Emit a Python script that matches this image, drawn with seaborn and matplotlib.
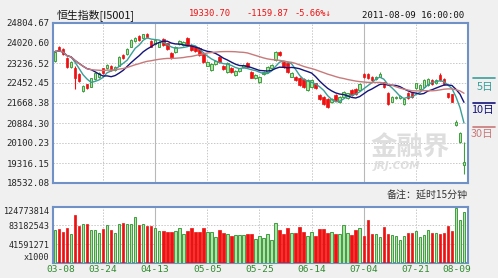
import numpy as np
import pandas as pd
import matplotlib
matplotlib.use("Agg")
import matplotlib.pyplot as plt
from matplotlib.lines import Line2D
import seaborn as sns

# ---------------- data ----------------
opens = [23315, 23877, 23790, 23419, 23092, 23053, 22790, 22139, 22400, 22308,
         22610, 22674, 23027, 23027, 23118, 22962, 23132, 23550, 23576, 23877,
         24099, 24295, 24229, 24360, 24099, 23968, 23877, 24177, 24007, 23615,
         23655, 23968, 23942, 24203, 23942, 23877, 23811, 23615, 23132, 22962,
         23184, 23485, 23132, 22896, 23053, 22766, 22922, 23092, 23223, 22896,
         22635, 22504, 22792, 22896, 23027, 23354, 23655, 23288, 23223, 22700,
         22700, 22635, 22610, 22178, 22308, 22439, 21982, 21916, 21825, 21694,
         21982, 21694, 21916, 21877, 22178, 22217, 22178, 22792, 22792, 22700,
         22609, 22700, 22478, 22073, 21720, 21851, 21851, 21616, 22073, 22047,
         22243, 22217, 22308, 22374, 22570, 22439, 22766, 22596, 22047, 22008,
         20806, 20152, 19237]
highs = [23740, 23920, 23820, 23485, 23330, 23100, 22830, 22370, 22430, 22660,
         22860, 22880, 23060, 23200, 23150, 23120, 23520, 23590, 23820, 24170,
         24260, 24330, 24390, 24400, 24140, 24170, 24080, 24210, 24040, 23650,
         23900, 24130, 24080, 24240, 23980, 23910, 23850, 23650, 23320, 23220,
         23350, 23520, 23170, 23260, 23090, 22960, 23060, 23200, 23260, 22930,
         22800, 22740, 22930, 23130, 23190, 23690, 23690, 23320, 23260, 22870,
         22740, 22670, 22640, 22600, 22610, 22470, 22020, 21950, 21860, 21860,
         22020, 21950, 22150, 22080, 22210, 22250, 22440, 22830, 22830, 22740,
         22740, 22900, 22510, 22110, 21950, 21950, 21990, 21860, 22110, 22080,
         22470, 22410, 22600, 22630, 22610, 22600, 22840, 22630, 22080, 22040,
         20990, 20545, 20152]
lows = [23290, 23720, 23540, 23027, 23050, 22205, 22480, 22090, 22200, 22280,
        22580, 22650, 22800, 23000, 22930, 22940, 23100, 23390, 23550, 23850,
        24070, 24110, 24200, 24230, 23850, 23940, 23850, 23910, 23760, 23390,
        23630, 23940, 23910, 23910, 23720, 23680, 23520, 23230, 23100, 22930,
        23150, 23230, 22970, 22860, 22860, 22730, 22890, 23060, 23060, 22630,
        22600, 22470, 22760, 22860, 22990, 23320, 23520, 23060, 22860, 22670,
        22540, 22340, 22270, 22140, 22270, 22210, 21790, 21580, 21490, 21660,
        21750, 21660, 21880, 21840, 21950, 21970, 22140, 22660, 22600, 22530,
        22570, 22670, 22270, 21580, 21690, 21820, 21820, 21580, 21840, 21880,
        22210, 22190, 22280, 22340, 22370, 22410, 22540, 22370, 21880, 21690,
        20780, 20087, 18870]
closes = [23680, 23746, 23575, 23092, 23288, 22635, 22530, 22335, 22243, 22635,
          22831, 22831, 22831, 23158, 22962, 23092, 23485, 23419, 23785, 24138,
          24229, 24138, 24360, 24256, 23877, 24138, 24046, 23942, 23785, 23419,
          23877, 24099, 24046, 23942, 23746, 23707, 23550, 23262, 23288, 23184,
          23315, 23262, 23001, 23223, 22896, 22922, 23027, 23158, 23092, 22661,
          22766, 22700, 22896, 23092, 23158, 23655, 23550, 23092, 22896, 22831,
          22570, 22374, 22308, 22570, 22570, 22243, 21825, 21616, 21524, 21825,
          21786, 21916, 22112, 22047, 21982, 22008, 22400, 22700, 22635, 22570,
          22700, 22805, 22308, 21616, 21916, 21916, 21955, 21825, 21877, 21916,
          22439, 22374, 22570, 22596, 22400, 22570, 22570, 22400, 21916, 21720,
          20936, 20479, 19369]
volumes = [72800000, 75000000, 69100000, 76500000, 63900000, 106200000, 82400000, 87600000, 86200000, 72800000,
           72800000, 66800000, 75000000, 84700000, 72800000, 66800000, 86200000, 89900000, 87600000, 87600000,
           102500000, 84700000, 87600000, 81000000, 81000000, 77200000, 71300000, 71300000, 69100000, 67600000,
           71300000, 77200000, 63900000, 71300000, 77200000, 69100000, 69100000, 77200000, 67600000, 69100000,
           57900000, 72800000, 65400000, 63900000, 60200000, 61600000, 61600000, 61600000, 63900000, 63900000,
           52000000, 59400000, 55700000, 63900000, 50500000, 89100000, 72800000, 63900000, 76500000, 66800000,
           66800000, 78700000, 69100000, 59400000, 67600000, 60200000, 75000000, 75000000, 65400000, 69100000,
           63900000, 63900000, 83900000, 65400000, 61600000, 72800000, 78000000, 60200000, 96600000, 63100000,
           63900000, 56400000, 78700000, 63900000, 61600000, 60200000, 50500000, 60200000, 65400000, 65400000,
           70600000, 56400000, 62400000, 72800000, 66800000, 65400000, 63100000, 65400000, 81700000, 71300000,
           122500000, 96600000, 113700000]

price_ticks = [24804.67, 24020.60, 23236.52, 22452.45, 21668.38, 20884.30, 20100.23, 19316.15, 18532.08]
vol_ticks = [124773814, 83182543, 41591271]
date_labels = ["03-08", "03-24", "04-13", "05-05", "05-25", "06-14", "07-04", "07-21", "08-09"]
date_pos = [1.5, 12, 25, 38, 51, 64, 77, 90, 100.2]
grid_bars = [12, 25, 38, 51, 64, 77, 90]
ma_windows = [5, 10, 30]
ma_names = ["5日", "10日", "30日"]

# ---------------- style ----------------
sns.set_style("white")
plt.rcParams["font.family"] = ["DejaVu Sans Mono", "Noto Sans CJK SC"]

RED = "#ee1111"
G_EDGE = "#3f9f3f"
G_FILL = "#b4e0ac"
BORDER = "#7090c8"
MA_COLORS = ["#3a9e98", "#14147a", "#c87a7a"]
BG = "#f0f0f0"

W, H = 498, 278
fig = plt.figure(figsize=(W / 100, H / 100), dpi=100, facecolor=BG)
ax = fig.add_axes([53 / W, 1 - 183 / H, 415 / W, 160 / H])
axv = fig.add_axes([53 / W, 1 - 262.5 / H, 415 / W, 55.5 / H])

o = np.array(opens, float)
h = np.array(highs, float)
l = np.array(lows, float)
c = np.array(closes, float)
v = np.array(volumes, float)
idx = np.arange(len(c))
up = c >= o

df = pd.DataFrame({"bar": idx, "close": c})
for w in ma_windows:
    df[f"ma{w}"] = df["close"].rolling(w, min_periods=1).mean()

for a in (ax, axv):
    a.set_facecolor("white")
    for s in a.spines.values():
        s.set_color(BORDER)
        s.set_linewidth(1.5)
    a.set_xlim(-0.5, 103.0)
    a.tick_params(length=0)
    for gb in grid_bars:
        if gb in (25, 77):
            a.axvline(gb, color="#b8b8b8", lw=0.8, zorder=0)
        else:
            a.axvline(gb, color="#c8c8c8", lw=0.7, ls=(0, (1.5, 1.5)), zorder=0)

# price panel
ax.set_ylim(price_ticks[-1], price_ticks[0])
for t in price_ticks[1:-1]:
    ax.axhline(t, color="#c8c8c8", lw=0.7, ls=(0, (1.5, 1.5)), zorder=0)
ax.set_yticks(price_ticks)
ax.set_yticklabels([f"{t:.2f}" for t in price_ticks], fontsize=6.5, family="DejaVu Sans Mono")
ax.tick_params(axis="y", pad=2.5)
ax.set_xticks([])

body_bot = np.minimum(o, c)
body_h = np.maximum(np.abs(c - o), 30)
ax.vlines(idx, l, h, colors=np.where(up, G_EDGE, RED), lw=0.8, zorder=3)
ax.bar(idx[up], body_h[up], bottom=body_bot[up], width=0.62,
       facecolor=G_FILL, edgecolor=G_EDGE, lw=0.7, zorder=4)
ax.bar(idx[~up], body_h[~up], bottom=body_bot[~up], width=0.62,
       facecolor=RED, edgecolor=RED, lw=0.5, zorder=4)

for w, col in zip(ma_windows, MA_COLORS):
    sns.lineplot(data=df, x="bar", y=f"ma{w}", ax=ax, color=col, lw=1.0, zorder=5, legend=False)
ax.set_xlabel("")
ax.set_ylabel("")

# watermark
fig.text(410 / W, 1 - 148 / H, "金融界", fontsize=19, color="#dedede", ha="center", va="center",
         family=["Noto Sans CJK SC"], fontweight="bold", zorder=1)
fig.text(397 / W, 1 - 166 / H, "JRJ.COM", fontsize=7.5, color="#dedede", ha="center", va="center",
         family=["DejaVu Sans"], fontweight="bold", style="italic", zorder=1)

# volume panel
axv.set_ylim(0, vol_ticks[0])
for t in vol_ticks[1:]:
    axv.axhline(t, color="#c8c8c8", lw=0.7, ls=(0, (1.5, 1.5)), zorder=0)
axv.bar(idx[up], v[up], width=0.62, facecolor=G_FILL, edgecolor=G_EDGE, lw=0.7, zorder=3)
axv.bar(idx[~up], v[~up], width=0.62, facecolor=RED, edgecolor=RED, lw=0.5, zorder=3)
axv.set_yticks(vol_ticks + [0])
axv.set_yticklabels([str(t) for t in vol_ticks] + ["x1000"], fontsize=6.1, family="DejaVu Sans Mono")
axv.tick_params(axis="y", pad=2.5)
axv.set_xticks(date_pos)
axv.set_xticklabels(date_labels, fontsize=6.8, color="#2e8b2e", family="DejaVu Sans Mono")
axv.tick_params(axis="x", pad=2)
axv.get_yticklabels()[0].set_va("top")
axv.get_yticklabels()[-1].set_va("bottom")

# header
fig.text(57 / W, 1 - 15 / H, "恒生指数[I5001]", fontsize=7.8, color="#111111", va="center",
         family=["Noto Sans CJK SC", "DejaVu Sans"])
fig.text(189 / W, 1 - 14 / H, "19330.70", fontsize=6.3, color=RED, va="center")
fig.text(246 / W, 1 - 14 / H, "-1159.87", fontsize=6.3, color=RED, va="center")
fig.text(294 / W, 1 - 14 / H, "-5.66%↓", fontsize=6.3, color=RED, va="center")
fig.text(362 / W, 1 - 16 / H, "2011-08-09 16:00:00", fontsize=6.5, color="#111111", va="center")
fig.text(468 / W, 1 - 196 / H, "备注：延时15分钟", fontsize=7.2, color="#333333", va="center", ha="right",
         family=["Noto Sans CJK SC", "DejaVu Sans"])

# MA legend on the right
leg_y = [(78, 87), (103, 110), (127, 134)]
for (ly, ty), name, col in zip(leg_y, ma_names, MA_COLORS):
    fig.add_artist(Line2D([473 / W, 495 / W], [1 - ly / H, 1 - ly / H], color=col, lw=1.2,
                          transform=fig.transFigure))
    fig.text(494 / W, 1 - ty / H, name, fontsize=7.8, color=col, ha="right", va="center",
             family=["Noto Sans CJK SC", "DejaVu Sans"])

fig.savefig("out.png", dpi=100, facecolor=BG)
